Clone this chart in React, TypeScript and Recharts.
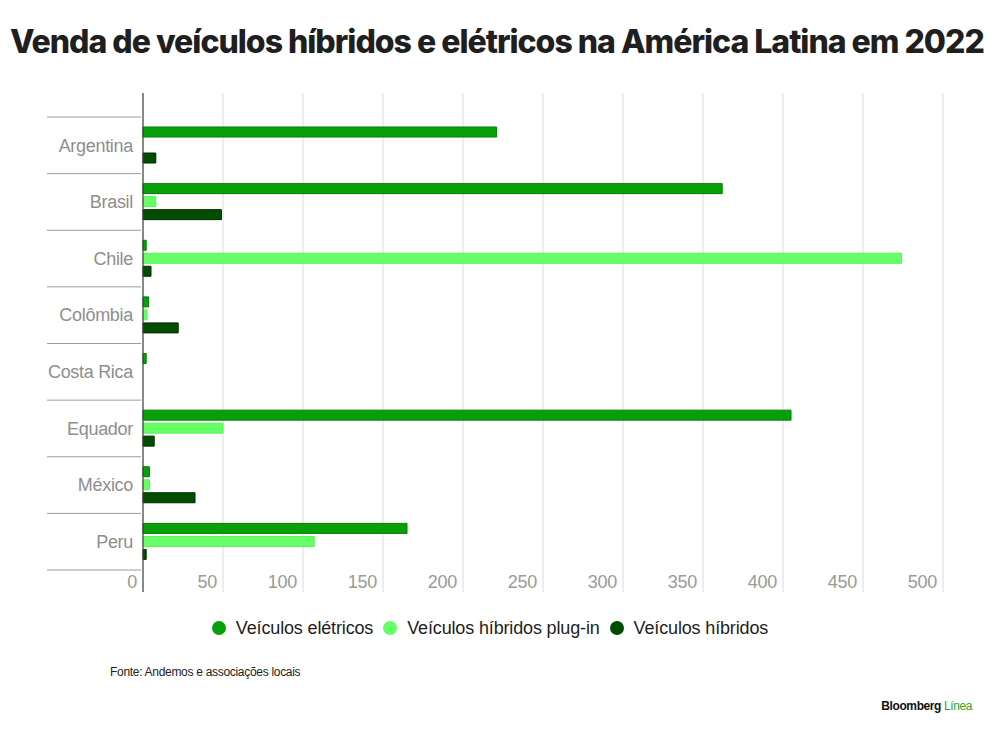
import { BarChart, Bar, XAxis, YAxis, CartesianGrid, Legend } from 'recharts';

const categories = ['Argentina', 'Brasil', 'Chile', 'Colômbia', 'Costa Rica', 'Equador', 'México', 'Peru'];
const eletricos = [221, 362, 2, 3.5, 2, 405, 4, 165];
const hibridosPlugin = [0, 8, 474, 2.5, 0, 50, 4, 107];
const hibridos = [8, 49, 5, 22, 0, 7, 32.5, 2];
const xTicks = [0, 50, 100, 150, 200, 250, 300, 350, 400, 450, 500];

const series = [
    { key: 'eletricos', name: 'Veículos elétricos', fill: '#08a008', stroke: '#057a05' },
    { key: 'plugin', name: 'Veículos híbridos plug-in', fill: '#66ff66', stroke: '#5cec5c' },
    { key: 'hibridos', name: 'Veículos híbridos', fill: '#024d02', stroke: '#012801' },
];

const data = categories.map((pais, i) => ({
    pais,
    eletricos: eletricos[i],
    plugin: hibridosPlugin[i],
    hibridos: hibridos[i],
}));

const labelFont = '"Liberation Sans", Arial, sans-serif';

function CategoryTick(props: any) {
    const { x, y, payload, index, visibleTicksCount } = props;
    const half = payload?.offset ?? 28.3;
    const last = index === (visibleTicksCount ?? categories.length) - 1;
    return (
        <g>
            <line x1={x - 86} x2={x + 8} y1={y - half} y2={y - half} stroke="#9c9c9c" strokeWidth={1} />
            {last && <line x1={x - 86} x2={x + 8} y1={y + half} y2={y + half} stroke="#9c9c9c" strokeWidth={1} />}
            <text x={x} y={y} dy="0.35em" textAnchor="end" fill="#8e8e8e" fontSize={18} fontFamily={labelFont} letterSpacing={-0.3}>
                {payload.value}
            </text>
        </g>
    );
}

function ValueTick(props: any) {
    const { x, y, payload } = props;
    return (
        <text x={x - 6} y={y - 4} textAnchor="end" fill="#9a9a9a" fontSize={18} fontFamily={labelFont} letterSpacing={-0.3}>
            {payload.value}
        </text>
    );
}

// keep the legend in the series order (recharts sorts it by name otherwise)
function LegendContent(props: any) {
    const items = props.payload ?? [];
    const ordered = series.map((s) => items.find((e: any) => e.value === s.name) ?? { value: s.name, color: s.fill });
    return (
        <div style={{ height: 40, display: 'flex', alignItems: 'center', justifyContent: 'center', paddingRight: 10, fontFamily: labelFont }}>
            {ordered.map((entry: any) => (
                <div key={entry.value} style={{ display: 'flex', alignItems: 'center', marginRight: 10 }}>
                    <span style={{ width: 14, height: 14, borderRadius: 7, background: entry.color, display: 'inline-block', marginRight: 10 }} />
                    <span style={{ fontSize: 18, color: '#1e1e1e', letterSpacing: -0.15 }}>{entry.value}</span>
                </div>
            ))}
        </div>
    );
}

export default function App() {
    return (
        <div style={{ position: 'absolute', left: 0, top: 0, width: 1000, height: 734, background: '#fff', overflow: 'hidden' }}>
            <div
                style={{
                    position: 'absolute',
                    left: 10,
                    top: 22,
                    fontFamily: 'Inter, sans-serif',
                    fontWeight: 800,
                    fontSize: 32,
                    letterSpacing: -1,
                    color: '#1f1f1f',
                    whiteSpace: 'nowrap',
                }}
            >
                Venda de veículos híbridos e elétricos na América Latina em 2022
            </div>
            <div style={{ position: 'absolute', left: 0, top: 0 }}>
                <BarChart
                    width={1000}
                    height={660}
                    data={data}
                    layout="vertical"
                    margin={{ top: 93, right: 57, left: 0, bottom: 12 }}
                    barSize={10}
                    barGap={3}
                >
                    <CartesianGrid horizontal={false} stroke="#dcdcdc" />
                    <XAxis
                        type="number"
                        domain={[0, 500]}
                        ticks={xTicks}
                        height={16}
                        axisLine={false}
                        tickLine={false}
                        tickSize={0}
                        tickMargin={0}
                        tick={<ValueTick />}
                        interval={0}
                    />
                    <YAxis
                        type="category"
                        dataKey="pais"
                        width={143}
                        padding={{ top: 24, bottom: 22 }}
                        axisLine={{ stroke: '#444', strokeWidth: 1.2 }}
                        tickLine={false}
                        tickSize={0}
                        tickMargin={10}
                        tick={<CategoryTick />}
                        interval={0}
                    />
                    <Legend
                        verticalAlign="bottom"
                        content={<LegendContent />}
                        wrapperStyle={{ left: 0, width: 1000 }}
                    />
                    {series.map((s) => (
                        <Bar
                            key={s.key}
                            dataKey={s.key}
                            name={s.name}
                            fill={s.fill}
                            stroke={s.stroke}
                            strokeWidth={1}
                            isAnimationActive={false}
                        />
                    ))}
                </BarChart>
            </div>
            <div
                style={{
                    position: 'absolute',
                    left: 110,
                    top: 665,
                    fontFamily: '"Liberation Sans Narrow", "Liberation Sans", sans-serif',
                    fontSize: 12,
                    letterSpacing: -0.3,
                    color: '#222',
                }}
            >
                Fonte: Andemos e associações locais
            </div>
            <div
                style={{
                    position: 'absolute',
                    right: 28,
                    top: 699,
                    fontFamily: '"Liberation Sans Narrow", "Liberation Sans", sans-serif',
                    fontWeight: 700,
                    fontSize: 12,
                    letterSpacing: -0.4,
                    color: '#111',
                }}
            >
                Bloomberg <span style={{ color: '#2aa82a', fontWeight: 400 }}>Línea</span>
            </div>
        </div>
    );
}
